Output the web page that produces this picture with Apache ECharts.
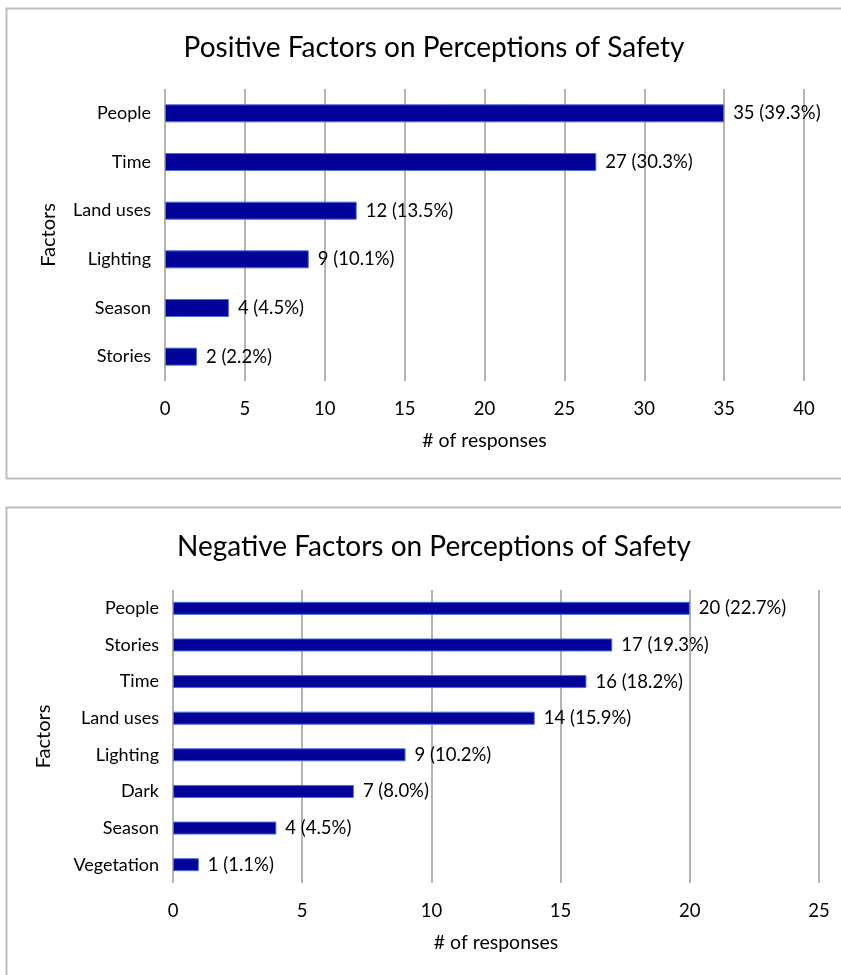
<!DOCTYPE html>
<html>
<head>
<meta charset="utf-8">
<script src="https://cdn.jsdelivr.net/npm/echarts@6/dist/echarts.min.js"></script>
<style>
html,body{margin:0;padding:0;background:#fff;}
#c{width:841px;height:975px;}
</style>
</head>
<body>
<div id="c"></div>
<script>
var posCategories = ["People", "Time", "Land uses", "Lighting", "Season", "Stories"];
var posValues = [35, 27, 12, 9, 4, 2];
var posPercents = ["39.3%", "30.3%", "13.5%", "10.1%", "4.5%", "2.2%"];
var posTicks = [0, 5, 10, 15, 20, 25, 30, 35, 40];

var negCategories = ["People", "Stories", "Time", "Land uses", "Lighting", "Dark", "Season", "Vegetation"];
var negValues = [20, 17, 16, 14, 9, 7, 4, 1];
var negPercents = ["22.7%", "19.3%", "18.2%", "15.9%", "10.2%", "8.0%", "4.5%", "1.1%"];
var negTicks = [0, 5, 10, 15, 20, 25];

var FONT = "Lato, 'Open Sans', sans-serif";
var TXT = "#000";
var barColor = "#03039a";
var barBorder = "#4a6fd8";
var gridColor = "#b4b4b4";

function xAxis(gridIndex, ticks) {
  return {
    type: "value", gridIndex: gridIndex,
    min: ticks[0], max: ticks[ticks.length - 1], interval: ticks[1] - ticks[0],
    name: "# of responses", nameLocation: "middle", nameGap: 50,
    nameTextStyle: {fontFamily: FONT, fontSize: 19.5, color: TXT},
    axisLine: {show: false}, axisTick: {show: false},
    axisLabel: {fontFamily: FONT, fontSize: 18.5, color: TXT, margin: 19},
    splitLine: {show: true, lineStyle: {color: gridColor, width: 2}}
  };
}
function yAxis(gridIndex, cats, gap) {
  return {
    type: "category", gridIndex: gridIndex, data: cats, inverse: true,
    name: "Factors", nameLocation: "middle", nameGap: gap, nameRotate: 90,
    nameTextStyle: {fontFamily: FONT, fontSize: 20, color: TXT},
    axisLine: {show: false}, axisTick: {show: false},
    axisLabel: {fontFamily: FONT, fontSize: 18, color: TXT, margin: 14}
  };
}
function series(idx, vals, pcts, barWidth) {
  return {
    type: "bar", xAxisIndex: idx, yAxisIndex: idx, data: vals, barWidth: barWidth,
    itemStyle: {color: barColor, borderColor: barBorder, borderWidth: 1},
    label: {
      show: true, position: "right", distance: 9,
      fontFamily: FONT, fontSize: 18.5, color: TXT,
      formatter: function (p) { return p.value + " (" + pcts[p.dataIndex] + ")"; }
    }
  };
}

var chart = echarts.init(document.getElementById("c"), null, {renderer: "canvas"});
chart.setOption({
  backgroundColor: "#fff",
  animation: false,
  graphic: [
    {type: "rect", shape: {x: 6.5, y: 8.5, width: 850, height: 470}, style: {fill: "none", stroke: "#bdbdbd", lineWidth: 2}, z: -10},
    {type: "rect", shape: {x: 6.5, y: 507.5, width: 850, height: 500}, style: {fill: "none", stroke: "#bdbdbd", lineWidth: 2}, z: -10}
  ],
  title: [
    {text: "Positive Factors on Perceptions of Safety", left: 429, top: 29, textAlign: "center",
      textStyle: {fontFamily: FONT, fontSize: 28, fontWeight: "normal", color: TXT}},
    {text: "Negative Factors on Perceptions of Safety", left: 429, top: 528, textAlign: "center",
      textStyle: {fontFamily: FONT, fontSize: 28, fontWeight: "normal", color: TXT}}
  ],
  grid: [
    {left: 165, width: 639, top: 89, height: 292},
    {left: 173, width: 646, top: 590, height: 293}
  ],
  xAxis: [xAxis(0, posTicks), xAxis(1, negTicks)],
  yAxis: [yAxis(0, posCategories, 106), yAxis(1, negCategories, 119)],
  series: [series(0, posValues, posPercents, 18), series(1, negValues, negPercents, 13)]
});
</script>
</body>
</html>
